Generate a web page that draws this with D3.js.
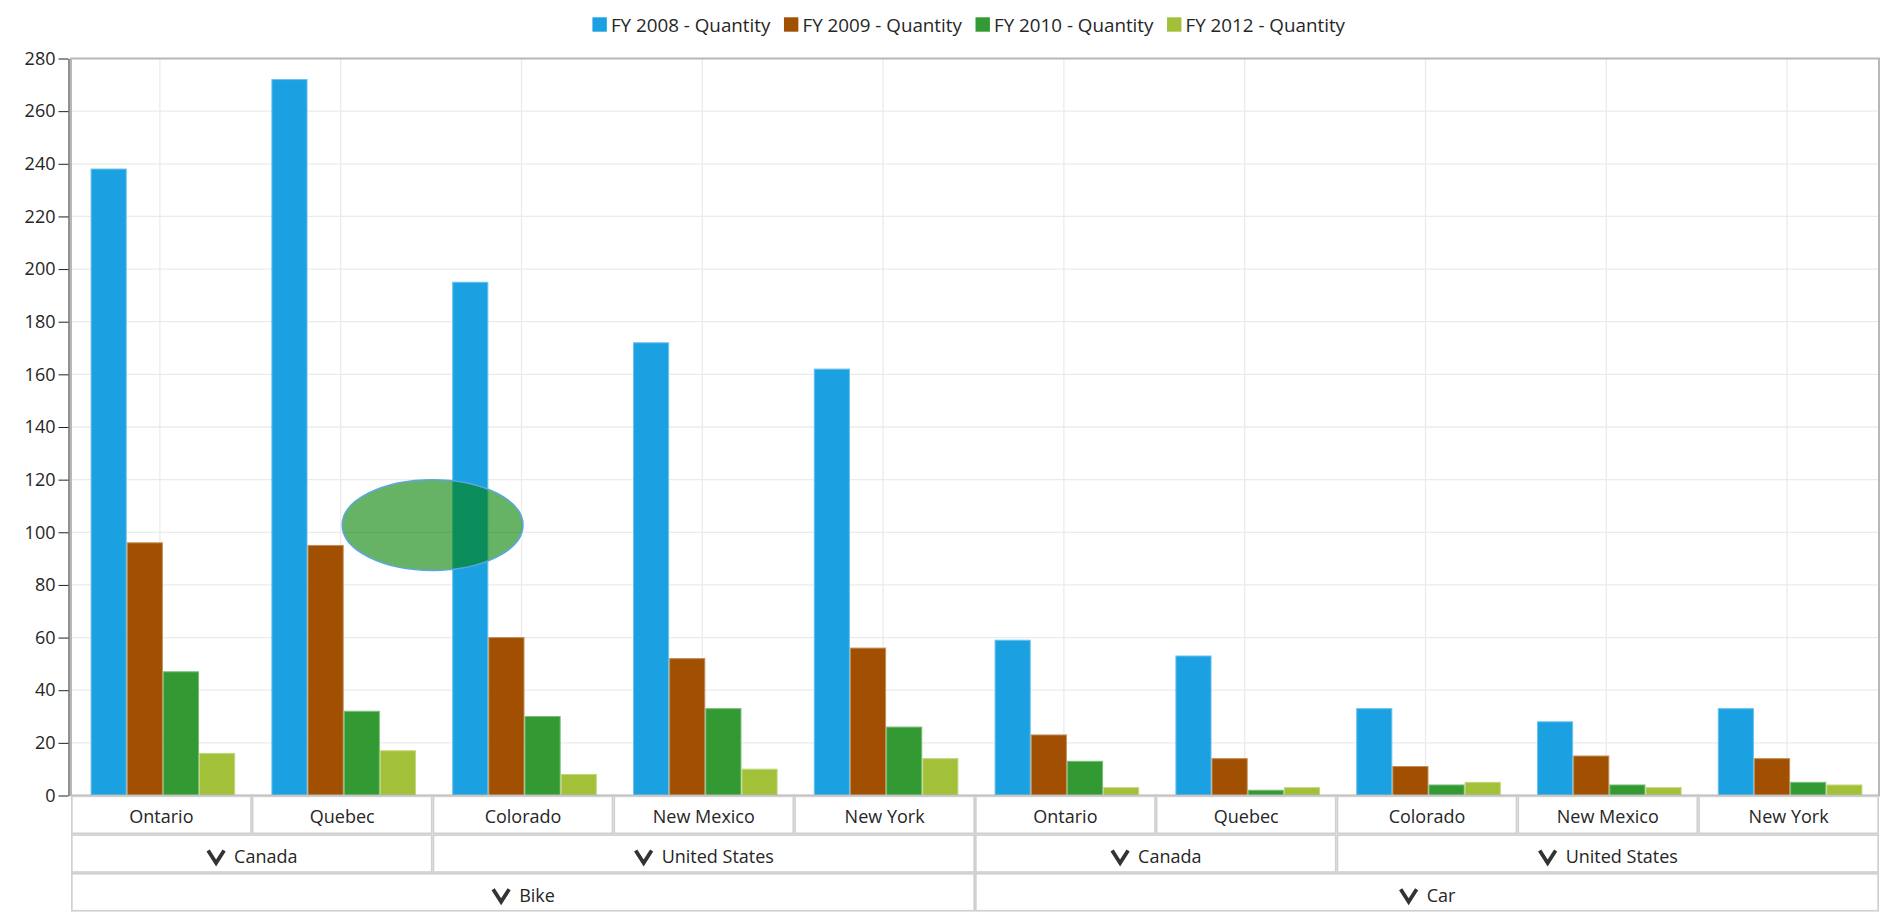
<!DOCTYPE html>
<html>
<head>
<meta charset="utf-8">
<script src="https://cdn.jsdelivr.net/npm/d3@7"></script>
<style>
  body { margin: 0; background: #fff; }
  text { font-family: "Open Sans", sans-serif; fill: #262626; }
</style>
</head>
<body>
<div class="chart"></div>
<script>
// data
const product = ['Bike','Bike','Bike','Bike','Bike','Car','Car','Car','Car','Car'];
const country = ['Canada','Canada','United States','United States','United States',
                 'Canada','Canada','United States','United States','United States'];
const state   = ['Ontario','Quebec','Colorado','New Mexico','New York',
                 'Ontario','Quebec','Colorado','New Mexico','New York'];
const seriesNames = ['FY 2008 - Quantity','FY 2009 - Quantity','FY 2010 - Quantity','FY 2012 - Quantity'];
const colors = ['#1ba1e2','#a05000','#339933','#a2c139'];
const fy2008 = [238, 272, 195, 172, 162, 59, 53, 33, 28, 33];
const fy2009 = [96, 95, 60, 52, 56, 23, 14, 11, 15, 14];
const fy2010 = [47, 32, 30, 33, 26, 13, 2, 4, 4, 5];
const fy2012 = [16, 17, 8, 10, 14, 3, 3, 5, 3, 4];
const yTicks = d3.range(0, 281, 20);
// highlight ellipse: between Quebec and Colorado (Bike), y 85.5..120
const ellipseFrom = 1, ellipseTo = 2, ellipseLow = 85.5, ellipseHigh = 120;

const values = [fy2008, fy2009, fy2010, fy2012];
const keys = state.map((s, i) => product[i] + '|' + country[i] + '|' + s);

const width = 1887, height = 920;
const plotLeft = 71, plotRight = 1879, plotTop = 58.5, plotBottom = 795.5;
const rowH = 38.7;

const svg = d3.select('.chart').append('svg')
    .attr('width', width)
    .attr('height', height);

const x = d3.scaleBand().domain(keys).range([plotLeft, plotRight]);
const xs = d3.scaleBand().domain(seriesNames).range([0, x.bandwidth()]).paddingOuter(0.5);
const y = d3.scaleLinear().domain([0, 280]).range([plotBottom, plotTop]);

// grid
svg.append('g').selectAll('line')
    .data(yTicks)
    .enter().append('line')
    .attr('x1', plotLeft).attr('x2', plotRight)
    .attr('y1', d => y(d)).attr('y2', d => y(d))
    .attr('stroke', '#ebebeb').attr('stroke-width', 1.3);
svg.append('g').selectAll('line')
    .data(keys)
    .enter().append('line')
    .attr('x1', d => x(d) + x.bandwidth() / 2 - 1.5).attr('x2', d => x(d) + x.bandwidth() / 2 - 1.5)
    .attr('y1', plotTop).attr('y2', plotBottom)
    .attr('stroke', '#ebebeb').attr('stroke-width', 1.3);

// bars
seriesNames.forEach((s, si) => {
    const light = d3.interpolateRgb(colors[si], '#fff')(0.35);
    svg.append('g').selectAll('rect')
        .data(values[si])
        .enter().append('rect')
        .attr('x', (d, i) => x(keys[i]) + xs(s) + 2)
        .attr('width', xs.bandwidth() - 1)
        .attr('y', d => y(d))
        .attr('height', d => y(0) - y(d))
        .attr('fill', colors[si])
        .attr('stroke', light)
        .attr('stroke-width', 1);
});

// plot border
svg.append('rect')
    .attr('x', plotLeft).attr('y', plotTop)
    .attr('width', plotRight - plotLeft).attr('height', plotBottom - plotTop)
    .attr('fill', 'none').attr('stroke', '#b8b8b8').attr('stroke-width', 2);

// y axis
const yAxis = svg.append('g')
    .attr('transform', 'translate(68.5,0)')
    .call(d3.axisLeft(y).tickValues(yTicks).tickSize(10).tickSizeOuter(0).tickPadding(3));
yAxis.select('.domain').attr('stroke', '#222');
yAxis.selectAll('.tick line').attr('stroke', '#222');
yAxis.selectAll('.tick text')
    .attr('font-size', 18)
    .attr('font-family', '"Open Sans", sans-serif')
    .attr('fill', '#262626');

// highlight ellipse
const ex1 = x(keys[ellipseFrom]) + x.bandwidth() / 2;
const ex2 = x(keys[ellipseTo]) + x.bandwidth() / 2;
svg.append('ellipse')
    .attr('cx', (ex1 + ex2) / 2)
    .attr('cy', (y(ellipseLow) + y(ellipseHigh)) / 2)
    .attr('rx', (ex2 - ex1) / 2)
    .attr('ry', (y(ellipseLow) - y(ellipseHigh)) / 2)
    .attr('fill', 'rgba(0,128,0,0.6)')
    .attr('stroke', '#5aa7e0')
    .attr('stroke-width', 1.5);

// multi-level axis cells
const levels = [state, country, product];
levels.forEach((lvl, li) => {
    const groups = [];
    keys.forEach((k, i) => {
        const g = groups[groups.length - 1];
        const same = g && levels.slice(li).every(l => l[i] === l[g.start]);
        if (same) g.end = i;
        else groups.push({ label: lvl[i], start: i, end: i });
    });
    const y0 = plotBottom + li * rowH;
    const cell = svg.append('g').selectAll('g')
        .data(groups)
        .enter().append('g');
    cell.append('rect')
        .attr('x', d => x(keys[d.start]) + 0.85)
        .attr('y', y0 + 0.85)
        .attr('width', d => x(keys[d.end]) + x.bandwidth() - x(keys[d.start]) - 1.7)
        .attr('height', rowH - 1.7)
        .attr('fill', '#fff')
        .attr('stroke', '#d0d0d0')
        .attr('stroke-width', 1.7);
    cell.each(function(d) {
        const g = d3.select(this);
        const cx = (x(keys[d.start]) + x(keys[d.end]) + x.bandwidth()) / 2;
        const cy = y0 + rowH / 2 + (li === 0 ? 1.5 : 3.5);
        const t = g.append('text')
            .attr('y', cy)
            .attr('dy', '0.35em')
            .attr('font-size', 18)
            .text(d.label);
        if (li === 0) {
            t.attr('x', cx).attr('text-anchor', 'middle');
        } else {
            const tw = t.node().getComputedTextLength();
            const start = cx - (18 + 10 + tw) / 2;
            g.append('path')
                .attr('d', `M${start + 2},${cy - 6.5} L${start + 10},${cy + 6} L${start + 18},${cy - 6.5}`)
                .attr('fill', 'none')
                .attr('stroke', '#333')
                .attr('stroke-width', 3.8);
            t.attr('x', start + 28);
        }
    });
});

// legend
const legend = svg.append('g');
const items = legend.selectAll('g')
    .data(seriesNames)
    .enter().append('g');
items.append('rect')
    .attr('y', 17.3).attr('width', 14.4).attr('height', 14.4)
    .attr('fill', (d, i) => colors[i]);
items.append('text')
    .attr('x', 18.5).attr('y', 31.5)
    .attr('font-size', 18.8)
    .text(d => d);
let pos = 0;
items.each(function() {
    const w = this.getBBox().width;
    d3.select(this).attr('data-x', pos);
    pos += w + 13;
});
const legendW = pos - 13;
items.attr('transform', function() {
    return 'translate(' + (969 - legendW / 2 + (+this.getAttribute('data-x'))) + ',0)';
});
</script>
</body>
</html>
